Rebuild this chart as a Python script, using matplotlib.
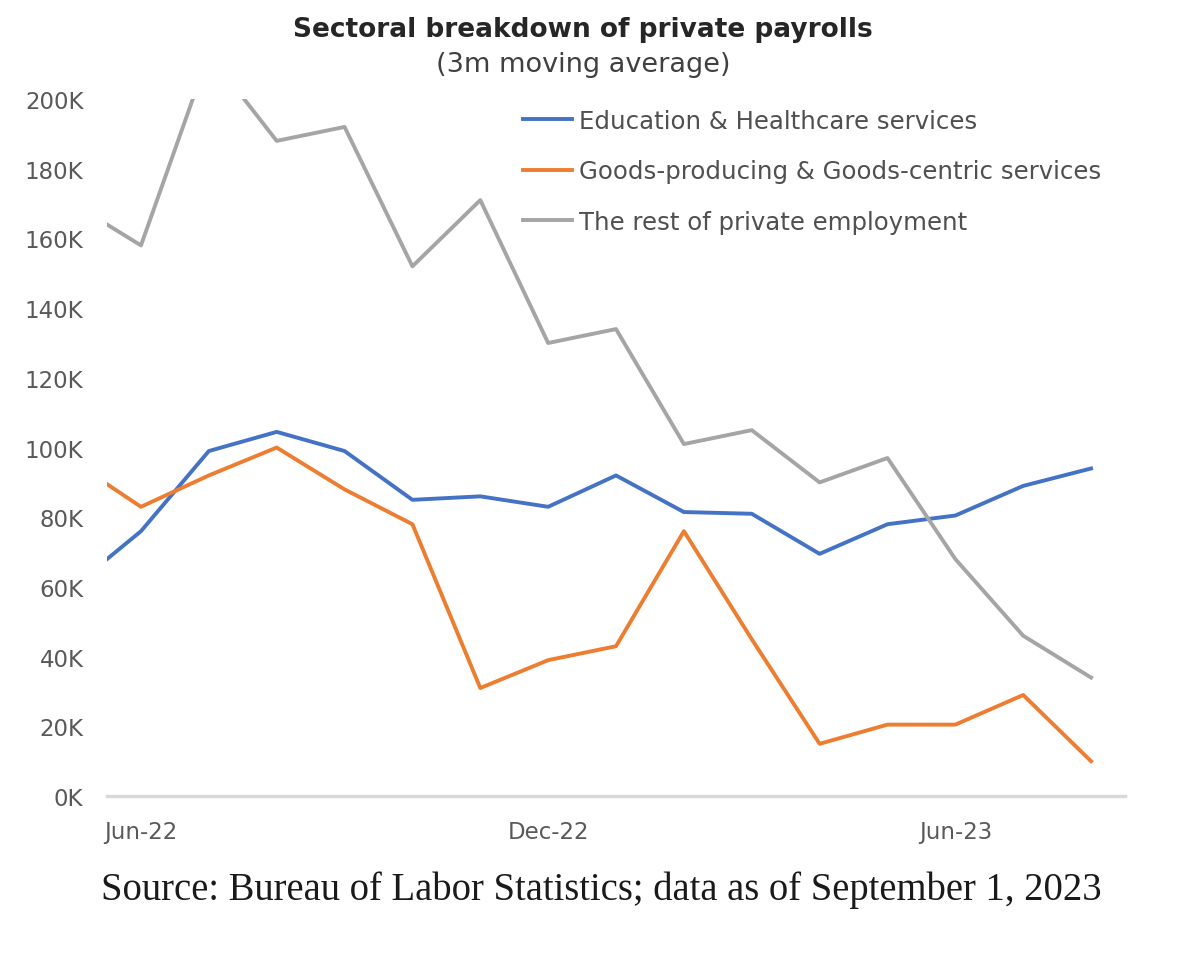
import matplotlib
matplotlib.use("Agg")
import matplotlib.pyplot as plt
from matplotlib.ticker import FuncFormatter

plt.rcParams['font.family'] = ['DejaVu Sans']

months = ["May-22", "Jun-22", "Jul-22", "Aug-22", "Sep-22", "Oct-22", "Nov-22", "Dec-22",
          "Jan-23", "Feb-23", "Mar-23", "Apr-23", "May-23", "Jun-23", "Jul-23", "Aug-23"]
edu_health = [60, 76, 99, 104.5, 99, 85, 86, 83, 92, 81.5, 81, 69.5, 78, 80.5, 89, 94]
goods = [96, 83, 92, 100, 88, 78, 31, 39, 43, 76, 45, 15, 20.5, 20.5, 29, 10]
rest = [170, 158, 213, 188, 192, 152, 171, 130, 134, 101, 105, 90, 97, 68, 46, 34]
tick_labels = ["Jun-22", "Dec-22", "Jun-23"]
legend_labels = ["Education & Healthcare services",
                 "Goods-producing & Goods-centric services",
                 "The rest of private employment"]

fig = plt.figure(figsize=(12, 9.78), dpi=100)
ax = fig.add_axes([0.0892, 0.185, 0.8483, 0.7127])

x = list(range(len(months)))
ax.plot(x, edu_health, color="#4472C4", lw=2.8, label=legend_labels[0], solid_joinstyle="round")
ax.plot(x, goods, color="#ED7D31", lw=2.8, label=legend_labels[1], solid_joinstyle="round")
ax.plot(x, rest, color="#A5A5A5", lw=2.8, label=legend_labels[2], solid_joinstyle="round")

ax.set_xlim(0.5, len(months) - 0.5)
ax.set_ylim(0, 200)
ax.set_yticks(range(0, 201, 20))
ax.yaxis.set_major_formatter(FuncFormatter(lambda v, p: f"{int(v)}K"))
ax.set_xticks([months.index(t) for t in tick_labels])
ax.set_xticklabels(tick_labels)
ax.tick_params(axis="both", length=0, labelsize=16.5, colors="#595959")
ax.tick_params(axis="x", pad=17)
ax.tick_params(axis="y", pad=17)

for s in ["top", "right", "left"]:
    ax.spines[s].set_visible(False)
ax.spines["bottom"].set_color("#D9D9D9")
ax.spines["bottom"].set_linewidth(2.5)

leg = fig.legend(loc="upper left", bbox_to_anchor=(523 / 1200, 1 - 110 / 978),
                 bbox_transform=fig.transFigure, frameon=False, borderpad=0,
                 borderaxespad=0, fontsize=17.6, handlelength=2.0, handletextpad=0.3,
                 labelspacing=1.08, labelcolor="#505050")

fig.text(0.486, 0.969, "Sectoral breakdown of private payrolls", ha="center", va="center",
         fontsize=19, fontweight="bold", color="#262626")
fig.text(0.486, 0.9335, "(3m moving average)", ha="center", va="center",
         fontsize=19.5, color="#404040")
fig.text(0.084, 0.09, "Source: Bureau of Labor Statistics; data as of September 1, 2023",
         ha="left", va="center", fontsize=27.8, family=["Liberation Serif", "DejaVu Serif"],
         color="#1a1a1a")

fig.savefig("out.png", dpi=100)
